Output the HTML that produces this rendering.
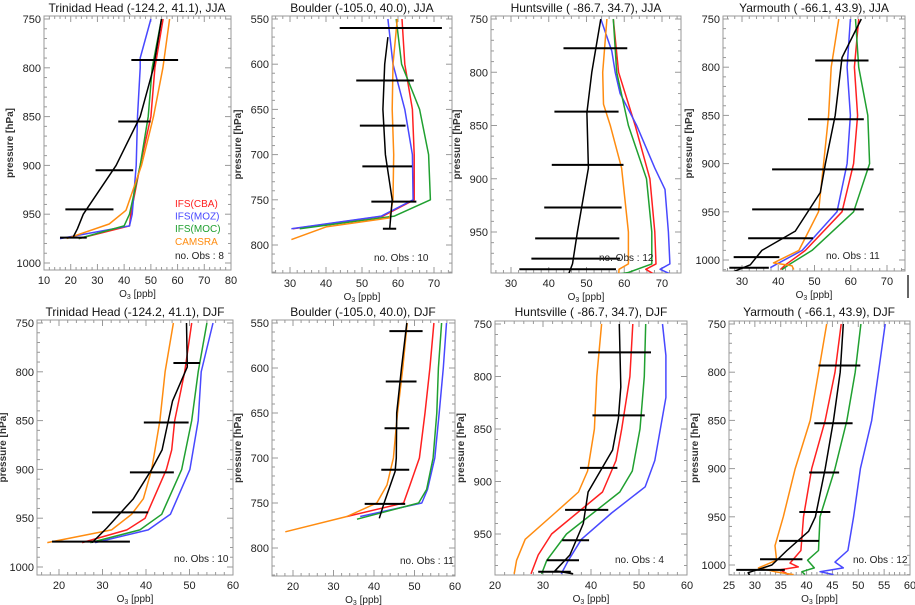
<!DOCTYPE html>
<html><head><meta charset="utf-8">
<style>
body{margin:0;background:#fff;}
svg{display:block;font-family:"Liberation Sans",sans-serif;}
</style></head>
<body>
<svg id="fig" width="915" height="605" viewBox="0 0 915 605"></svg>
<script>
// ---- data: [O3 ppb, pressure hPa] pairs; errors: [lo, hi, pressure]
const p1_cba=[[54.6,750],[51.5,800],[50,850],[46,900],[42.5,950],[42,962],[23,975]];
const p1_moz=[[50,750],[46,790],[46,800],[45,850],[44.5,900],[43,950],[42,962],[16,975]];
const p1_moc=[[54,750],[50.5,800],[49,850],[46,900],[42,950],[40,962],[23,975]];
const p1_cams=[[57,750],[54.5,800],[51,850],[46.5,900],[40.7,946],[34.4,960],[18.5,975]];
const p1_obs=[[54,750],[51,800],[46,850],[40.6,880],[37,900],[24.7,950],[22.5,965],[21,973]];
const p1_err=[[42.7,60.2,792],[37.8,49.9,855],[29.3,43.4,905],[18,36,945],[16,26,974]];

const p2_cba=[[61.1,550],[61.9,600],[64,650],[64.5,700],[64.5,750],[55.8,768],[30.8,782]];
const p2_moz=[[57.2,550],[58.6,600],[61.9,650],[64,700],[64.2,750],[55.4,768],[30.4,782]];
const p2_moc=[[59.5,550],[61,600],[66,650],[68.5,700],[69,750],[59,768],[32.7,782]];
const p2_cams=[[59.8,550],[58.6,600],[58.4,650],[58.8,700],[58.6,750],[57.7,770],[40,780],[30.4,794]];
const p2_obs=[[57.2,570],[56.3,600],[55.8,650],[56.5,700],[58.4,750],[57.7,782]];
const p2_err=[[43.8,72.2,560],[48.4,64.4,618],[49.4,62.1,668],[50.1,63.9,713],[52.6,65.1,752],[55.8,59.5,782]];

const p3_cba=[[57.1,750],[58.5,800],[62.9,850],[66.8,900],[68.1,950],[68.4,980],[65.7,985],[68.1,990]];
const p3_moz=[[53.8,750],[56.7,780],[57.6,800],[58.9,820],[63.3,850],[68.1,890],[70.8,910],[71.7,950],[72.1,980],[69.5,985],[72.6,990],[56.7,992]];
const p3_moc=[[57.1,750],[58,800],[61.1,850],[65.9,900],[67.3,950],[67.3,980],[61.1,988],[52.3,993]];
const p3_cams=[[55.4,750],[54.3,800],[54.5,830],[56.3,850],[59.3,890],[61.1,950],[61.1,980],[58.6,985],[58.5,993]];
const p3_obs=[[53.8,750],[51.4,800],[50.1,838],[50.5,890],[47.6,950],[46.3,980],[45.2,990]];
const p3_err=[[43.9,60.8,777.5],[41.5,58.5,837],[40.8,59.8,887],[38.8,59.3,927],[36.4,58.7,956],[35.4,58.9,975],[32.2,57.8,985]];

const p4_cba=[[62.2,750],[61,800],[61.9,850],[60.8,900],[57.6,950],[47.5,990],[42,1005],[40.6,1010]];
const p4_moz=[[59.9,750],[59,800],[59.9,850],[59,900],[56.2,950],[46.6,990],[39.2,1005],[37.8,1008]];
const p4_moc=[[61.3,750],[62.2,800],[64.7,850],[65.2,900],[60.8,950],[49.3,990],[42.9,1005],[41,1010]];
const p4_cams=[[56.7,750],[54.6,800],[53.9,850],[52.5,900],[51.1,950],[45.7,990],[38.7,1003],[43.8,1006],[44.3,1010]];
const p4_obs=[[62.9,750],[57.6,790],[55.7,850],[53,900],[51.6,930],[44.7,970],[35.5,990],[32.3,1005],[27.7,1012]];
const p4_err=[[50.2,64.9,793],[48.2,63.6,854],[38.3,66.3,906],[32.8,63.6,947.5],[31.7,49.6,977.5],[27.7,40.3,997],[26.5,37.4,1008]];

const p5_cba=[[50.5,750],[48.9,800],[46.6,850],[45.9,880],[44.7,900],[39.8,950],[35.6,962],[25.3,975]];
const p5_moz=[[55.4,750],[52.7,800],[52,850],[50.1,900],[45.6,946],[40.5,962],[28.3,975]];
const p5_moc=[[54,750],[52,800],[50.5,850],[48.2,900],[43.6,946],[38.6,962],[27.2,975]];
const p5_cams=[[46.3,750],[44.4,800],[43.2,850],[41.3,900],[39.4,930],[36.7,946],[32.1,962],[17.3,975]];
const p5_obs=[[49.3,750],[49.5,795],[46.1,830],[43.7,880],[41.3,900],[37.1,930],[31,960],[27.6,975]];
const p5_err=[[46.3,52.4,791],[39.5,49.8,852],[36.3,46.4,903],[27.6,40.5,944],[18.4,36.3,974]];

const p6_cba=[[54.8,550],[53.8,600],[52.6,650],[51.2,700],[48.9,730],[47.3,750],[33.3,765]];
const p6_moz=[[57.9,550],[57.1,600],[56.1,650],[55,700],[53.2,735],[51.8,750],[36.6,765]];
const p6_moc=[[56.7,550],[55.9,600],[55.5,650],[54.6,700],[53,735],[51,750],[35.8,768]];
const p6_cams=[[48.2,550],[47.1,600],[45.8,650],[44.8,700],[43.2,730],[40.7,750],[33.3,765],[18.1,782]];
const p6_obs=[[48.1,550],[46.8,600],[45.6,650],[45.5,700],[45.2,715],[42.5,750],[41.3,767]];
const p6_err=[[43.8,52,559],[42.9,50.5,615],[42.6,48.7,667],[41.8,48.7,713],[37.7,47.7,751]];

const p7_cba=[[48.7,750],[48.1,800],[46.4,850],[45.2,880],[42.4,910],[31.8,950],[29,970],[27.5,988]];
const p7_moz=[[54.9,750],[55.6,780],[55.6,820],[53.3,880],[51.3,905],[44.3,930],[38,955],[35.3,975],[33.8,988]];
const p7_moc=[[51.4,750],[51.1,800],[50.2,850],[48.6,890],[46,910],[34.9,950],[30.8,975],[29.7,988]];
const p7_cams=[[42.2,750],[41.2,800],[40.7,850],[39.3,890],[37.4,910],[32.5,930],[26.3,955],[24.5,975],[24,988]];
const p7_obs=[[45.9,750],[46.2,810],[45.7,840],[44.5,870],[39.4,910],[38.4,940],[35.6,970],[32.5,985],[36.3,988]];
const p7_err=[[39.4,52.5,777],[40.3,51.2,837],[37.7,45.5,887],[34.6,43.6,927],[34,39.6,956],[30.8,37.5,975],[29,35.8,986]];

const p8_cba=[[46.7,750],[45.5,800],[43.6,850],[41,900],[39.4,950],[38.9,985],[36.8,998],[38.4,1002],[34.9,1005],[36.5,1010]];
const p8_moz=[[55.2,750],[53.9,800],[52.6,850],[50.4,900],[49.1,950],[48,985],[45.5,997],[47.1,1003],[42.6,1007],[45.2,1010]];
const p8_moc=[[50.5,750],[49.4,800],[47.8,850],[45.5,900],[42.6,950],[42.3,985],[40.2,995],[41.5,1003],[39.1,1007],[39.7,1010]];
const p8_cams=[[43.9,750],[42.3,800],[40.7,850],[37.8,900],[35.5,950],[33.9,980],[34.2,995],[30.7,1003],[33.9,1007],[37.5,1010]];
const p8_obs=[[47.1,750],[46.5,800],[45.2,850],[43.6,900],[41.7,950],[40.4,965],[36.2,985],[33.3,1000],[28.7,1008],[29,1011]];
const p8_err=[[42.3,50.4,793],[41.5,48.9,853],[40.5,46.3,904],[38.6,44.6,945],[34.7,42.4,975],[31,39.2,994],[26.4,35.8,1005]];

const titles=["Trinidad Head (-124.2, 41.1), JJA","Boulder (-105.0, 40.0), JJA","Huntsville ( -86.7, 34.7), JJA","Yarmouth ( -66.1, 43.9), JJA",
"Trinidad Head (-124.2, 41.1), DJF","Boulder (-105.0, 40.0), DJF","Huntsville ( -86.7, 34.7), DJF","Yarmouth ( -66.1, 43.9), DJF"];
const nobs=[8,10,12,11,10,11,4,12];
const xticks=[[10,20,30,40,50,60,70,80],[30,40,50,60,70],[30,40,50,60,70],[30,40,50,60,70],
[20,30,40,50,60],[20,30,40,50,60],[20,30,40,50,60],[25,30,35,40,45,50,55,60]];
const yticks=[[750,800,850,900,950,1000],[550,600,650,700,750,800],[750,800,850,900,950],[750,800,850,900,950,1000],
[750,800,850,900,950,1000],[550,600,650,700,750,800],[750,800,850,900,950],[750,800,850,900,950,1000]];
const allSeries=[
 [p1_cba,p1_moz,p1_moc,p1_cams,p1_obs,p1_err],[p2_cba,p2_moz,p2_moc,p2_cams,p2_obs,p2_err],
 [p3_cba,p3_moz,p3_moc,p3_cams,p3_obs,p3_err],[p4_cba,p4_moz,p4_moc,p4_cams,p4_obs,p4_err],
 [p5_cba,p5_moz,p5_moc,p5_cams,p5_obs,p5_err],[p6_cba,p6_moz,p6_moc,p6_cams,p6_obs,p6_err],
 [p7_cba,p7_moz,p7_moc,p7_cams,p7_obs,p7_err],[p8_cba,p8_moz,p8_moc,p8_cams,p8_obs,p8_err]];

// ---- layout (pixel calibration): box [x0,y0,x1,y1], x cal [v0,px0,v1,px1], y cal [p0,py0,p1,py1], title pos, nobs pos
const layout=[
 {box:[44,16,231,270],xc:[10,44,80,231],yc:[750,19,1000,263],t:[137,7],n:[175,255]},
 {box:[272,16,452,273],xc:[30,290,70,434],yc:[550,19,800,245],t:[362,7],n:[374,257]},
 {box:[491,16,681,273],xc:[30,511,70,662],yc:[750,19,950,232],t:[586,7],n:[599,257]},
 {box:[723,16,905,271],xc:[30,742,70,887],yc:[750,19,1000,260],t:[814,7],n:[826,255]},
 {box:[37,320,233,575],xc:[20,59,60,233],yc:[750,323,1000,567],t:[135,311],n:[174,558]},
 {box:[272,320,455,576],xc:[20,293,60,455],yc:[550,323,800,548],t:[363,311],n:[400,560]},
 {box:[495,321,687,575],xc:[20,495,60,687],yc:[750,324,950,534],t:[591,311],n:[615,559]},
 {box:[729,321,910,575],xc:[25,729,60,910],yc:[750,324,1000,565],t:[819,311],n:[853,559]}];
const colors=["#ff2020","#4848ff","#20a030","#ff8c10","#000000"];
const sNames=["ifs-cba","ifs-moz","ifs-moc","camsra","observations"];

const NS="http://www.w3.org/2000/svg";
const fig=document.getElementById('fig');
function mk(tag,attrs,parent){const e=document.createElementNS(NS,tag);for(const k in attrs)e.setAttribute(k,attrs[k]);(parent||fig).appendChild(e);return e;}
function scale(c){return v=>c[1]+(v-c[0])*(c[3]-c[1])/(c[2]-c[0]);}

layout.forEach((L,i)=>{
  const g=mk('g',{});
  
  
  const X=scale(L.xc),Y=scale(L.yc);
  const [x0,y0,x1,y1]=L.box;
  const clipId='clip'+i;
  const cp=mk('clipPath',{id:clipId},g);mk('rect',{x:x0,y:y0,width:x1-x0,height:y1-y0},cp);
  const box=mk('rect',{x:x0,y:y0,width:x1-x0,height:y1-y0,fill:'none',stroke:'#999','stroke-width':1},g);
  
  
  // x ticks
  const xt=xticks[i],dx=xt[1]-xt[0];
  for(let v=xt[0]-dx;v<=xt[xt.length-1]+dx;v+=dx/5){const px=X(v);if(px<x0||px>x1)continue;
    const maj=Math.abs((v-xt[0])/dx-Math.round((v-xt[0])/dx))<1e-6;const l=maj?6:3;
    mk('line',{x1:px,x2:px,y1:y1,y2:y1-l,stroke:'#999','stroke-width':1},g);
    mk('line',{x1:px,x2:px,y1:y0,y2:y0+l,stroke:'#999','stroke-width':1},g);}
  xt.forEach(v=>{const t=mk('text',{x:X(v),y:y1+14,'text-anchor':'middle','font-size':11,fill:'#222'},g);t.textContent=v;
    });
  // y ticks
  const yt=yticks[i],dy=yt[1]-yt[0];
  for(let v=yt[0]-dy;v<=yt[yt.length-1]+dy;v+=dy/5){const py=Y(v);if(py<y0||py>y1)continue;
    const maj=Math.abs((v-yt[0])/dy-Math.round((v-yt[0])/dy))<1e-6;const l=maj?6:3;
    mk('line',{x1:x0,x2:x0+l,y1:py,y2:py,stroke:'#999','stroke-width':1},g);
    mk('line',{x1:x1,x2:x1-l,y1:py,y2:py,stroke:'#999','stroke-width':1},g);}
  yt.forEach(v=>{const t=mk('text',{x:x0-3,y:Y(v)+4,'text-anchor':'end','font-size':11,fill:'#222'},g);t.textContent=v;
    });
  // axis titles
  const xtT=mk('text',{x:(x0+x1)/2,y:y1+27,'text-anchor':'middle','font-size':10,fill:'#222'},g);
  xtT.innerHTML='O<tspan font-size="7" dy="2">3</tspan><tspan dy="-2"> [ppb]</tspan>';
  
  const ycx=x0-31,ycy=(y0+y1)/2;
  const ytT=mk('text',{x:ycx,y:ycy,'text-anchor':'middle','font-size':10,'font-weight':'bold',fill:'#333',transform:`rotate(-90 ${ycx} ${ycy})`},g);
  ytT.textContent='pressure [hPa]';
  
  const tt=mk('text',{x:L.t[0],y:L.t[1]+5,'text-anchor':'middle','font-size':12,fill:'#111'},g);
  tt.textContent=titles[i];
  
  // series
  const S=allSeries[i];
  const sg=mk('g',{'clip-path':`url(#${clipId})`},g);
  for(let s=0;s<5;s++){
    const pts=S[s].map(d=>X(d[0]).toFixed(1)+','+Y(d[1]).toFixed(1)).join(' ');
    const pl=mk('polyline',{points:pts,fill:'none',stroke:colors[s],'stroke-width':1.5,'stroke-linejoin':'round'},sg);
    
    
  }
  S[5].forEach(e=>{const l=mk('line',{x1:X(e[0]),x2:X(e[1]),y1:Y(e[2]),y2:Y(e[2]),stroke:'#000','stroke-width':2},sg);
    });
  const nt=mk('text',{x:L.n[0],y:L.n[1]+4,'font-size':10,fill:'#222'},g);
  nt.textContent='no. Obs :  '+nobs[i];
  
});
// legend in first panel
const legLabels=["IFS(CBA)","IFS(MOZ)","IFS(MOC)","CAMSRA"];
legLabels.forEach((lab,k)=>{const t=mk('text',{x:175,y:207+k*12.6,'font-size':10,fill:colors[k]});t.textContent=lab;
  });
const vl=mk('line',{x1:908,x2:908,y1:275,y2:298,stroke:'#000','stroke-width':1.2});

</script>
</body></html>
